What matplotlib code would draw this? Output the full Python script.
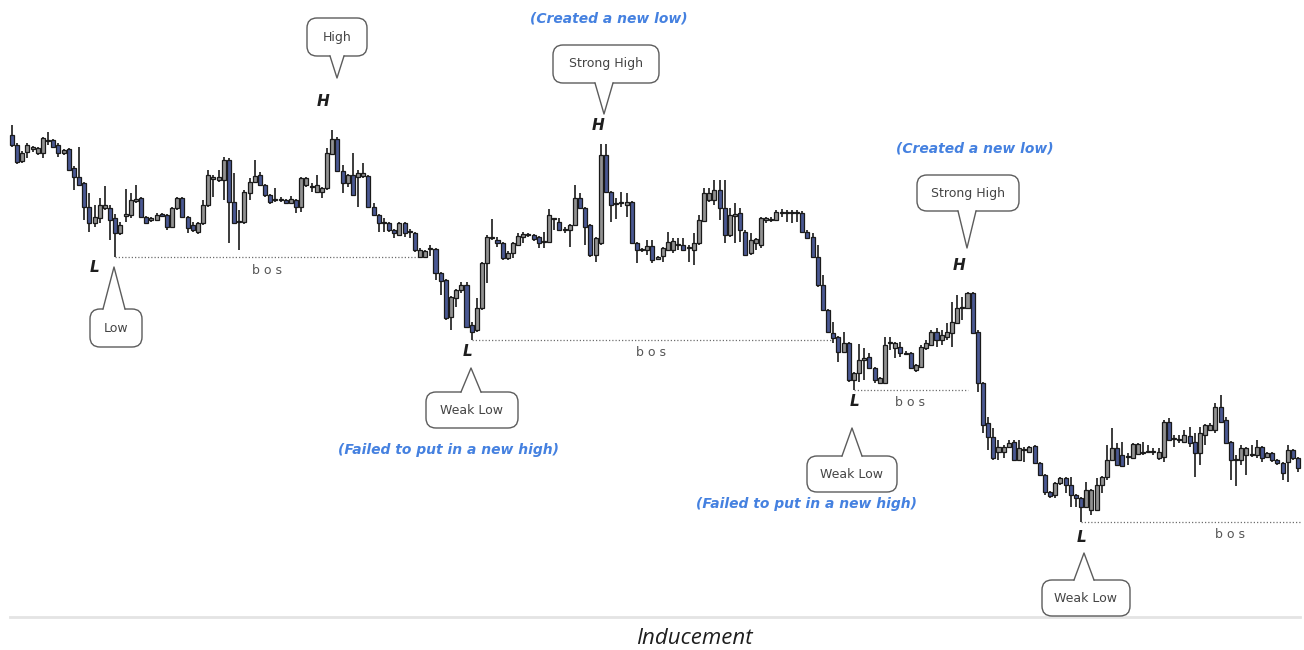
import matplotlib
matplotlib.use('Agg')
import matplotlib.pyplot as plt
from matplotlib.patches import FancyBboxPatch, Polygon

# price series (arbitrary price units)
opens = [565, 555, 539, 548, 551, 547, 547, 560, 560, 555,
         547, 551, 532, 523, 517, 493, 477, 482, 492, 492,
         482, 467, 484, 485, 499, 502, 483, 480, 480, 486,
         485, 473, 492, 502, 483, 475, 468, 477, 495, 521,
         520, 520, 540, 498, 479, 478, 507, 518, 525, 515,
         505, 500, 501, 500, 497, 500, 493, 515, 513, 508,
         508, 512, 546, 561, 529, 517, 525, 523, 524, 524,
         493, 485, 478, 477, 470, 465, 477, 469, 467, 443,
         443, 451, 451, 427, 420, 383, 402, 410, 415, 375,
         370, 392, 437, 462, 460, 457, 442, 447, 455, 463,
         465, 465, 463, 458, 458, 481, 478, 470, 470, 475,
         502, 492, 475, 445, 457, 545, 508, 496, 497, 495,
         498, 457, 450, 450, 454, 441, 444, 450, 450, 455,
         455, 452, 450, 457, 479, 500, 500, 510, 492, 465,
         484, 487, 468, 447, 457, 455, 480, 480, 480, 487,
         487, 488, 487, 487, 468, 463, 443, 415, 390, 367,
         363, 348, 357, 320, 327, 340, 343, 332, 317, 317,
         357, 352, 353, 347, 347, 330, 333, 352, 355, 368,
         360, 363, 367, 377, 392, 392, 407, 368, 317, 277,
         263, 248, 248, 253, 258, 240, 250, 248, 254, 237,
         225, 208, 205, 217, 222, 215, 205, 202, 193, 190,
         190, 215, 223, 240, 252, 245, 243, 242, 246, 247,
         248, 248, 242, 243, 278, 261, 260, 258, 264, 258,
         247, 265, 270, 270, 293, 280, 258, 240, 240, 245,
         245, 245, 253, 243, 247, 240, 237, 238, 250, 242]
highs = [575, 557, 549, 557, 554, 553, 563, 568, 561, 557,
         551, 552, 534, 553, 518, 507, 495, 502, 514, 495,
         486, 478, 511, 507, 515, 503, 484, 483, 487, 487,
         486, 493, 503, 503, 484, 478, 478, 500, 530, 525,
         530, 543, 542, 527, 490, 510, 522, 540, 528, 516,
         506, 512, 503, 501, 504, 501, 523, 523, 517, 525,
         513, 552, 570, 563, 535, 526, 547, 530, 537, 525,
         497, 486, 482, 478, 471, 478, 478, 471, 468, 452,
         450, 455, 452, 428, 421, 404, 411, 418, 418, 378,
         402, 438, 465, 481, 463, 458, 449, 458, 467, 468,
         467, 466, 464, 468, 491, 482, 482, 473, 476, 515,
         507, 493, 476, 463, 556, 556, 509, 502, 508, 507,
         499, 458, 452, 460, 460, 444, 453, 468, 462, 462,
         462, 455, 467, 485, 512, 512, 520, 520, 520, 492,
         497, 492, 470, 467, 462, 483, 483, 483, 490, 491,
         490, 490, 490, 489, 470, 467, 455, 425, 391, 378,
         364, 368, 358, 328, 356, 352, 347, 333, 323, 363,
         363, 358, 358, 349, 348, 336, 355, 360, 370, 372,
         370, 377, 398, 405, 403, 408, 408, 370, 318, 283,
         272, 260, 255, 260, 260, 260, 253, 254, 255, 238,
         226, 209, 218, 223, 223, 223, 206, 203, 218, 211,
         222, 224, 255, 272, 257, 258, 247, 257, 257, 258,
         255, 252, 252, 280, 282, 265, 265, 270, 273, 267,
         273, 276, 277, 297, 305, 283, 259, 245, 255, 253,
         255, 260, 254, 248, 248, 241, 238, 255, 251, 243]
lows = [553, 536, 537, 542, 548, 545, 542, 555, 552, 543,
        545, 529, 510, 514, 480, 468, 473, 477, 490, 460,
        443, 465, 478, 482, 497, 482, 476, 478, 479, 483,
        470, 472, 490, 482, 467, 468, 466, 475, 493, 503,
        518, 500, 457, 476, 450, 476, 500, 517, 514, 503,
        496, 498, 498, 496, 496, 487, 488, 513, 508, 507,
        502, 510, 545, 528, 507, 513, 504, 493, 522, 492,
        484, 468, 468, 468, 462, 464, 463, 462, 448, 442,
        442, 444, 420, 405, 380, 370, 393, 407, 372, 360,
        368, 390, 417, 460, 453, 440, 440, 442, 454, 457,
        463, 459, 452, 452, 457, 470, 469, 467, 453, 474,
        491, 455, 443, 438, 455, 507, 478, 481, 493, 483,
        456, 437, 448, 445, 437, 440, 438, 449, 447, 450,
        449, 438, 435, 455, 478, 498, 495, 480, 457, 463,
        457, 458, 444, 445, 450, 452, 477, 478, 479, 483,
        478, 477, 478, 467, 461, 442, 413, 389, 367, 357,
        338, 347, 318, 310, 318, 320, 331, 317, 316, 316,
        350, 342, 343, 345, 331, 328, 332, 350, 354, 353,
        355, 360, 353, 376, 380, 391, 366, 308, 267, 250,
        240, 240, 242, 252, 239, 239, 238, 247, 236, 224,
        205, 202, 202, 215, 207, 193, 193, 178, 192, 185,
        189, 207, 220, 239, 234, 233, 235, 241, 245, 245,
        247, 245, 240, 238, 259, 253, 257, 257, 253, 223,
        235, 255, 269, 267, 277, 256, 220, 214, 235, 225,
        243, 242, 238, 242, 238, 235, 220, 218, 240, 228]
closes = [555, 538, 547, 555, 553, 552, 562, 559, 553, 547,
          550, 530, 523, 515, 493, 477, 483, 495, 495, 480,
          467, 475, 486, 500, 501, 483, 477, 482, 485, 484,
          473, 492, 502, 483, 472, 470, 477, 495, 525, 523,
          523, 540, 498, 477, 478, 508, 518, 524, 515, 505,
          498, 501, 500, 497, 501, 493, 522, 522, 514, 515,
          512, 547, 561, 529, 517, 525, 505, 527, 527, 493,
          485, 477, 477, 470, 467, 477, 467, 468, 450, 450,
          449, 452, 427, 419, 382, 403, 410, 415, 373, 368,
          392, 437, 463, 463, 457, 442, 447, 457, 464, 466,
          466, 461, 457, 459, 485, 482, 470, 471, 475, 502,
          492, 473, 445, 462, 545, 508, 495, 497, 498, 498,
          457, 450, 451, 454, 440, 443, 452, 458, 459, 456,
          450, 453, 457, 480, 507, 507, 510, 492, 465, 485,
          486, 470, 445, 460, 461, 482, 482, 481, 488, 488,
          488, 487, 488, 468, 462, 443, 415, 390, 368, 362,
          348, 357, 320, 327, 340, 342, 332, 320, 322, 355,
          358, 357, 347, 346, 332, 335, 353, 357, 368, 360,
          365, 368, 378, 392, 393, 407, 367, 317, 275, 263,
          242, 253, 253, 257, 240, 252, 251, 253, 237, 225,
          208, 204, 217, 222, 215, 205, 202, 193, 210, 210,
          215, 223, 240, 252, 235, 234, 244, 256, 256, 248,
          249, 249, 248, 278, 260, 262, 261, 265, 257, 247,
          267, 275, 275, 293, 278, 257, 240, 241, 252, 252,
          246, 253, 242, 247, 240, 237, 227, 250, 242, 232]

# break-of-structure lines: (candle index of the low, candle index where line ends)
bos_lines = [(20, 78.6), (89, 158.8), (163, 185.1), (207, 249.4)]

BEAR = '#4a5893'
BULL = '#929292'

fig = plt.figure(figsize=(13.04, 6.5), dpi=100)
ax = fig.add_axes([0, 0, 1, 1])
ax.set_xlim(-2.32, 250.15)
ax.set_ylim(50, 700)
ax.axis('off')

n = len(opens)
idx = list(range(n))
bottoms = [min(o, c) for o, c in zip(opens, closes)]
heights = [max(abs(c - o), 1.5) for o, c in zip(opens, closes)]
colors = [BEAR if c < o else BULL for o, c in zip(opens, closes)]

ax.vlines(idx, lows, highs, color='#1a1a1a', lw=1.2, zorder=2)
ax.bar(idx, heights, bottom=bottoms, width=0.78, color=colors,
       edgecolor='#1a1a1a', linewidth=0.9, zorder=3)

for i0, i1 in bos_lines:
    ax.plot([i0, i1], [lows[i0], lows[i0]], ls=(0, (1, 1.6)), color='#6e6e6e', lw=0.9, zorder=1)

# annotation layer in pixel coordinates
ov = fig.add_axes([0, 0, 1, 1])
ov.set_xlim(0, 1304)
ov.set_ylim(650, 0)
ov.axis('off')
ov.patch.set_alpha(0)


def callout(text, cx, cy, w, h, tip, bw):
    tx, ty = tip
    x0, y0 = cx - w / 2, cy - h / 2
    ov.add_patch(FancyBboxPatch((x0, y0), w, h, boxstyle='round,pad=0,rounding_size=10',
                                fc='white', ec='#5c5c5c', lw=1, zorder=3))
    s = 1 if ty > cy else -1
    edge = y0 + h if s == 1 else y0
    ov.add_patch(Polygon([(tx - bw / 2, edge - 1.5 * s), (tx + bw / 2, edge - 1.5 * s), (tx, ty)],
                         closed=True, fc='white', ec='none', zorder=4))
    ov.plot([tx - bw / 2, tx, tx + bw / 2], [edge, ty, edge], color='#5c5c5c', lw=1, zorder=5)
    ov.text(cx, cy, text, ha='center', va='center', fontsize=9, color='#444444',
            family='DejaVu Sans', zorder=6)


callout('High', 337, 37, 60, 38, (337, 78), 14)
callout('Strong High', 606, 64, 106, 38, (604, 114), 18)
callout('Strong High', 968, 193, 102, 36, (967, 248), 18)
callout('Low', 116, 328, 52, 38, (114, 267), 22)
callout('Weak Low', 472, 410, 92, 36, (471, 368), 20)
callout('Weak Low', 852, 474, 90, 36, (852, 428), 20)
callout('Weak Low', 1086, 598, 88, 36, (1084, 553), 20)

for lab, x, y in [('H', 323, 102), ('H', 598, 126), ('H', 959, 265),
                  ('L', 95, 268), ('L', 468, 351), ('L', 855, 402), ('L', 1082, 537)]:
    ov.text(x, y, lab, ha='center', va='center', fontsize=11, fontweight='bold',
            fontstyle='italic', color='#1e1e1e')

for x, y in [(267, 270), (651, 352), (910, 402), (1230, 534)]:
    ov.text(x, y, 'b o s', ha='center', va='center', fontsize=9, color='#555555')

BLUE = '#4581e0'
for txt, x, y in [('(Created a new low)', 609, 19), ('(Created a new low)', 975, 149),
                  ('(Failed to put in a new high)', 449, 450),
                  ('(Failed to put in a new high)', 806, 504)]:
    ov.text(x, y, txt, ha='center', va='center', fontsize=10, fontweight='bold',
            fontstyle='italic', color=BLUE)

ov.plot([10, 1300], [617, 617], color='#e4e4e4', lw=2, zorder=1)
ov.text(694, 638, 'Inducement', ha='center', va='center', fontsize=16,
        fontstyle='italic', family='Open Sans', color='#1e1e1e')

fig.savefig('out.png', dpi=100)
